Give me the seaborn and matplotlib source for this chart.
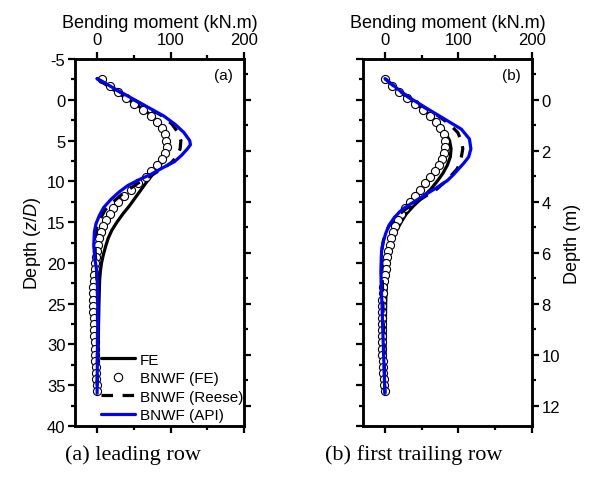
import numpy as np
import pandas as pd
import seaborn as sns
import matplotlib.pyplot as plt
from matplotlib.lines import Line2D
from matplotlib.ticker import MultipleLocator

sns.set_style('ticks')
plt.rcParams['font.family'] = ['Liberation Sans', 'DejaVu Sans']
plt.rcParams['mathtext.fontset'] = 'custom'
plt.rcParams['mathtext.it'] = 'Liberation Sans:italic'
plt.rcParams['mathtext.rm'] = 'Liberation Sans'
plt.rcParams['axes.unicode_minus'] = False
for k in ['text.color', 'axes.labelcolor', 'xtick.color', 'ytick.color', 'axes.edgecolor']:
    plt.rcParams[k] = 'black'

D = 0.32  # pile diameter (m), converts z/D to metres

# ---------------- (a) leading row ----------------
fe_a_z = [-2.6, -1, 0, 1, 2, 3, 4, 5, 6, 7, 8, 9, 10, 11, 12, 13, 14, 15, 16, 17, 18, 19, 20, 21, 22, 25, 30, 36]
fe_a_m = [0, 26, 43, 60, 75, 86, 92, 95, 95, 92, 86, 77, 68, 60, 52, 44, 35, 27, 20, 15, 11.5, 8.5, 6, 4.5, 3.5, 2.5, 1.5, 0.5]

api_a_z = [-2.6, -1, 0, 1, 2, 3, 4, 5, 5.5, 6, 6.8, 7.6, 8.3, 9.1, 9.8, 10.5, 11.3, 12.2, 13.2, 14.2, 15.2, 16.2, 17.9, 19.5, 21, 23, 26, 30, 36]
api_a_m = [0, 31, 51, 71, 91, 106, 118, 126, 127, 123, 115, 105, 90, 74, 57, 42, 30, 19, 9, 3, -1.5, -3.7, -4.6, -3, -0.5, 0.5, 1, 0.5, 0]

reese_a_z = [-2.6, -1, 0, 1, 2, 3, 4, 5, 6, 7, 7.7, 8.5, 9.3, 10.2, 11.5, 12.5, 13.5, 14.4, 15.5, 17, 19, 21, 24, 30, 36]
reese_a_m = [0, 30, 50, 70, 89, 102, 110, 114, 113, 108, 101, 88, 73, 56, 35, 22, 11, 5.5, 0, -3, -2.5, -0.5, 0.5, 0.5, 0]

# circles: BNWF (FE)
circ_z = [-2.5, -1.75, -1, -0.25, 0.5, 1.25, 2, 2.75, 3.5, 4.25, 5, 5.75, 6.5, 7.25, 8, 8.75,
          9.5, 10.25, 11, 11.75, 12.5, 13.25, 14, 14.75, 15.5, 16.25, 17, 17.75, 18.5, 19.25,
          20, 20.75, 21.5, 22.25, 23, 23.75, 24.5, 25.25, 26, 26.75, 27.5, 28.25, 29, 29.75,
          30.5, 31.25, 32, 32.75, 33.5, 34.25, 35, 35.75]
circ_a_m = [7, 17, 28, 39, 50, 62, 73, 82, 88, 92, 94, 95, 93, 88, 81, 74,
            66, 56, 46, 37, 29, 22, 17, 12, 7.5, 5, 3, 1, -0.5, -1.5,
            -2.5, -3.5, -4, -4.5, -5, -5, -5, -5, -5, -4.5, -4.5, -4, -4, -3.5,
            -3, -3, -2.5, -2, -1.5, -1, -0.5, 0]

# ---------------- (b) first trailing row ----------------
fe_b_z = [-2.6, -1, 0, 1, 2, 3, 4, 5, 6, 7, 8, 9, 10, 11, 12, 13, 14, 15, 16, 17, 18, 19, 20, 22, 25, 30, 36]
fe_b_m = [0, 20, 35, 50, 63, 74, 82, 88, 90, 89, 85, 79, 71, 62, 51, 39, 29, 22, 16, 11.5, 8, 5.5, 4, 2, 1, 0.3, 0]

api_b_z = [-2.6, -1, 0, 1, 2.35, 3.6, 4.8, 6, 7, 7.7, 8.5, 9.2, 9.9, 10.8, 11.75, 12.6, 13.4, 14.4, 15.4, 16.4, 17.5, 18.5, 19.5, 21, 23, 25, 28, 32, 36]
api_b_m = [0, 22, 38, 56, 81, 104, 115, 117, 114, 108, 100, 93, 85, 70, 53, 38, 24, 13, 5.5, 1, -2.5, -4.5, -5, -5.5, -5, -4, -3, -1.5, 0]

reese_b_z = [-2.6, -1, 0, 1, 2, 3, 4, 5, 6, 7, 8, 8.5, 9.3, 10.2, 11, 12, 12.8, 13.7, 14.5, 15.4, 16.2, 17, 18, 19.5, 21, 24, 28, 32, 36]
reese_b_m = [0, 21, 37, 55, 73, 88, 99, 104, 106, 104, 101, 98, 90, 80, 70, 52, 37, 24, 14, 6, 1.5, -1.5, -3.5, -4.5, -4, -3, -2, -1, 0]

circ_b_m = [0, 9, 19, 30, 41, 52, 61, 69, 75, 80, 82, 82, 81, 78, 74, 68,
            62, 55, 48, 41, 34, 27, 22, 17.5, 14, 11, 8.5, 6.5, 4.5, 3,
            2, 1, 0, -1, -2, -3, -3.5, -4, -4.5, -4.5, -4.5, -4.5, -4.5, -4,
            -4, -3.5, -3, -2.5, -2, -1.5, -1, 0]

blue = '#0000ff'
lw = 2.3
dash = (3.6, 3.0)

fig = plt.figure(figsize=(5.91, 4.85), dpi=100)
ax_a = fig.add_axes([0.127, 0.1196, 0.286, 0.7566])
ax_b = fig.add_axes([0.614, 0.1196, 0.286, 0.7566])


def draw_panel(ax, fe, circ, reese, api, tag):
    sns.lineplot(x=fe[1], y=fe[0], sort=False, estimator=None, color='black', lw=lw, ax=ax)
    sns.scatterplot(x=circ[1], y=circ[0], marker='o', s=34, facecolor='white',
                    edgecolor='black', linewidth=0.8, ax=ax, zorder=3)
    sns.lineplot(x=reese[1], y=reese[0], sort=False, estimator=None, color='black', lw=lw,
                 ax=ax, zorder=4)
    ax.lines[-1].set_dashes(dash)
    sns.lineplot(x=api[1], y=api[0], sort=False, estimator=None, color=blue, lw=lw, ax=ax, zorder=5)

    ax.set_xlim(-30, 200)
    ax.set_ylim(40, -5)
    ax.xaxis.set_major_locator(MultipleLocator(100))
    ax.xaxis.set_minor_locator(MultipleLocator(50))
    ax.yaxis.set_major_locator(MultipleLocator(5))
    ax.yaxis.set_minor_locator(MultipleLocator(2.5))
    ax.tick_params(axis='x', which='both', top=True, bottom=True, labeltop=True, labelbottom=False)
    ax.tick_params(which='both', direction='out', width=1.6, labelsize=12, pad=2)
    ax.tick_params(axis='x', pad=4)
    ax.tick_params(which='major', length=5)
    ax.tick_params(which='minor', length=3)
    ax.tick_params(axis='y', which='both', right=False)
    ax.xaxis.set_label_position('top')
    ax.set_xlabel('Bending moment (kN.m)', fontsize=13, labelpad=3)
    for sp in ax.spines.values():
        sp.set_visible(True)
        sp.set_linewidth(1.8)
    ax.text(0.935, 0.975, tag, transform=ax.transAxes, ha='right', va='top', fontsize=11)

    # depth in metres on the right side
    axm = ax.twinx()
    axm.set_ylim(40 * D, -5 * D)
    axm.yaxis.set_major_locator(MultipleLocator(2))
    axm.yaxis.set_minor_locator(MultipleLocator(1))
    axm.tick_params(which='both', direction='out', width=1.6, labelsize=12, pad=2)
    axm.tick_params(which='major', length=5)
    axm.tick_params(which='minor', length=3)
    for sp in axm.spines.values():
        sp.set_linewidth(1.8)
    return axm


am_a = draw_panel(ax_a, (fe_a_z, fe_a_m), (circ_z, circ_a_m), (reese_a_z, reese_a_m), (api_a_z, api_a_m), '(a)')
am_b = draw_panel(ax_b, (fe_b_z, fe_b_m), (circ_z, circ_b_m), (reese_b_z, reese_b_m), (api_b_z, api_b_m), '(b)')

ax_a.set_ylabel('Depth ($z/D$)', fontsize=13, labelpad=3)
am_a.tick_params(axis='y', labelright=False)
ax_b.tick_params(axis='y', labelleft=False)
am_b.set_ylabel('Depth (m)', fontsize=13, labelpad=3)

handles = [
    Line2D([], [], color='black', lw=lw),
    Line2D([], [], ls='none', marker='o', markersize=6, markerfacecolor='white',
           markeredgecolor='black', markeredgewidth=0.8),
    Line2D([], [], color='black', lw=lw, dashes=dash),
    Line2D([], [], color=blue, lw=lw),
]
labels = ['FE', 'BNWF (FE)', 'BNWF (Reese)', 'BNWF (API)']
ax_a.legend(handles, labels, loc='lower left', bbox_to_anchor=(0.155, 0.01), frameon=False,
            fontsize=11, handlelength=2.2, handletextpad=0.35, labelspacing=0.3,
            borderpad=0, borderaxespad=0)

fig.text(0.225, 0.062, '(a) leading row', ha='center', va='center',
         family='Liberation Serif', fontsize=16)
fig.text(0.70, 0.062, '(b) first trailing row', ha='center', va='center',
         family='Liberation Serif', fontsize=16)

fig.savefig('out.png', dpi=100)
